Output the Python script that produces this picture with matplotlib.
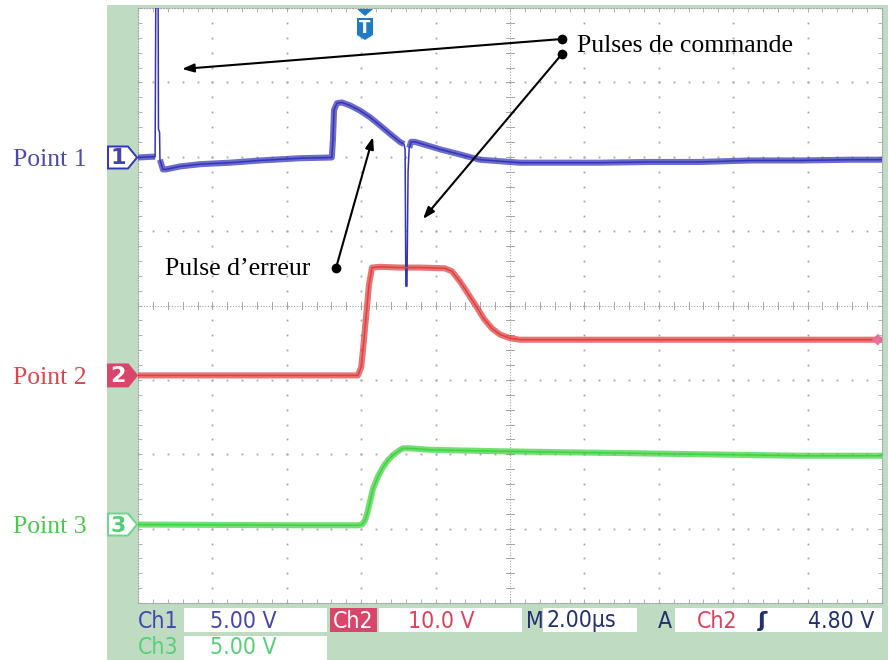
import numpy as np
import matplotlib
matplotlib.use("Agg")
import matplotlib.pyplot as plt
from matplotlib.patches import Polygon, Rectangle

# ---------------- data (time in µs, level in screen divisions) ----------------
ch1_t = [0.00, 0.38, 0.46, 0.48, 0.54, 0.55, 0.58, 0.59, 0.67, 0.75, 1.13, 1.67, 2.47,
         3.28, 4.35, 5.21, 5.24, 5.27, 5.35, 5.48, 5.70, 5.97, 6.24, 6.51, 6.77, 7.04,
         7.15, 7.18, 7.20, 7.23, 7.26, 7.29, 7.34, 7.45, 7.72, 8.12, 8.66, 9.19, 9.73,
         10.27, 11.34, 12.42, 13.76, 15.11, 16.45, 17.80, 19.14, 20.00]
ch1_v = [1.99, 2.00, 2.00, 4.30, 4.30, 2.37, 2.33, 1.96, 1.83, 1.83, 1.87, 1.90, 1.92,
         1.95, 1.98, 1.99, 2.23, 2.63, 2.72, 2.73, 2.69, 2.62, 2.53, 2.42, 2.31, 2.20,
         2.17, 2.10, 0.26, 0.26, 1.80, 2.12, 2.20, 2.20, 2.16, 2.10, 2.03, 1.96, 1.94,
         1.92, 1.92, 1.92, 1.93, 1.93, 1.95, 1.95, 1.96, 1.96]
ch1_spike_idx = [3, 4, 5, 6, 27, 28, 29, 30]

ch2_t = [0.00, 1.67, 4.35, 5.91, 6.00, 6.05, 6.10, 6.16, 6.21, 6.29, 6.51, 7.04, 7.58,
         8.25, 8.44, 8.66, 8.87, 9.09, 9.30, 9.52, 9.73, 10.00, 10.27, 13.76, 16.45, 20.00]
ch2_v = [-0.94, -0.94, -0.94, -0.94, -0.83, -0.59, -0.32, 0.01, 0.28, 0.51, 0.52, 0.51,
         0.51, 0.50, 0.46, 0.32, 0.16, -0.01, -0.18, -0.31, -0.39, -0.44, -0.46, -0.46,
         -0.46, -0.46]

ch3_t = [0.00, 4.35, 5.91, 6.02, 6.10, 6.16, 6.24, 6.32, 6.45, 6.59, 6.72, 6.86, 6.99,
         7.12, 7.31, 7.85, 9.73, 12.42, 15.11, 17.80, 20.00]
ch3_v = [-2.945, -2.955, -2.955, -2.945, -2.89, -2.80, -2.63, -2.46, -2.30, -2.17, -2.08,
         -2.01, -1.96, -1.92, -1.92, -1.94, -1.96, -1.98, -2.00, -2.02, -2.02]

ch_levels = [1.99, -0.94, -2.945]          # reference markers 1, 2, 3
point_labels = ["Point 1", "Point 2", "Point 3"]
status_row1 = ["Ch1", "5.00 V", "Ch2", "10.0 V", "M", "2.00µs", "A", "Ch2", "ʃ", "4.80 V"]
status_row2 = ["Ch3", "5.00 V"]

# ---------------- styling ----------------
W, H = 888, 660
BLUE, RED, GREEN = "#3434b8", "#e04040", "#3fd23f"
LBL_BLUE, LBL_RED, LBL_GREEN = "#4b4baa", "#d9484f", "#4cc94c"
PANEL = "#bfdcc3"
GRID = "#a2a6a6"
NAVY = "#23306e"

fig = plt.figure(figsize=(W / 100, H / 100), dpi=100)
fig.patch.set_facecolor("white")

# background scope panel (pixel coords)
bg = fig.add_axes([0, 0, 1, 1], zorder=0)
bg.set_xlim(0, W); bg.set_ylim(H, 0); bg.axis("off")
bg.add_patch(Rectangle((107, 5), W - 107, H - 5, facecolor=PANEL, edgecolor="none"))

# main scope screen
x0, x1, y0, y1 = 138, 882, 8, 603
ax = fig.add_axes([x0 / W, 1 - y1 / H, (x1 - x0) / W, (y1 - y0) / H], zorder=1)
ax.set_facecolor("white")
ax.set_xlim(0, 20)
ax.set_ylim(-4, 4)
for s in ax.spines.values():
    s.set_color(GRID); s.set_linestyle((0, (1, 1.5))); s.set_linewidth(0.8)
ax.set_xticks(np.arange(0, 20.01, 0.4))
ax.set_yticks(np.arange(-4, 4.01, 0.2))
ax.tick_params(direction="in", length=3, width=0.6, color=GRID,
               top=True, right=True, labelbottom=False, labelleft=False)

# dotted major grid
ydots = np.arange(-4, 4.001, 0.2)
xdots = np.arange(0, 20.001, 0.4)
for gx in range(2, 20, 2):
    if gx != 10:
        ax.plot(np.full_like(ydots, gx), ydots, ls="none", marker="s", ms=1.3,
                mec="none", color=GRID, zorder=1)
for gy in range(-3, 4):
    if gy != 0:
        ax.plot(xdots, np.full_like(xdots, gy), ls="none", marker="s", ms=1.3,
                mec="none", color=GRID, zorder=1)
# centre crosshair with ticks
ax.plot([10, 10], [-4, 4], color=GRID, lw=0.8, ls=(0, (1, 1.5)), zorder=1)
ax.plot([0, 20], [0, 0], color=GRID, lw=0.8, ls=(0, (1, 1.5)), zorder=1)
for yy in ydots:
    ax.plot([9.9, 10.1], [yy, yy], color=GRID, lw=0.7, zorder=1)
for xx in xdots:
    ax.plot([xx, xx], [-0.05, 0.05], color=GRID, lw=0.7, zorder=1)

# traces: thin core + thicker noise band
def draw_trace(t, v, color, spikes=()):
    t = np.asarray(t, float); v = np.asarray(v, float)
    band = v.copy()
    band[list(spikes)] = np.nan
    ax.plot(t, band, color=color, lw=4.4, alpha=0.72, solid_capstyle="butt", zorder=3)
    ax.plot(t, v, color=color, lw=1.1, zorder=4)

draw_trace(ch1_t, ch1_v, BLUE, ch1_spike_idx)
draw_trace(ch2_t, ch2_v, RED)
draw_trace(ch3_t, ch3_v, GREEN)

# ---------------- overlay (pixel coordinates) ----------------
ov = fig.add_axes([0, 0, 1, 1], zorder=3)
ov.set_xlim(0, W); ov.set_ylim(H, 0); ov.axis("off")
ov.patch.set_alpha(0)

def lvl_to_px(v):
    return y0 + (4 - v) / 8 * (y1 - y0)

# channel markers on the left
marker_styles = [("white", BLUE, "#4444b0"), ("#d9466c", "#d9466c", "white"),
                 ("white", "#6ad68a", "#55cc77")]
for i, lv in enumerate(ch_levels):
    c = lvl_to_px(lv)
    fc, ec, tc = marker_styles[i]
    ov.add_patch(Polygon([(108, c - 11), (128, c - 11), (137, c), (128, c + 11), (108, c + 11)],
                         closed=True, facecolor=fc, edgecolor=ec, lw=1.4, zorder=5))
    ov.text(118, c + 1, str(i + 1), color=tc, fontsize=16, fontweight="bold", ha="center",
            va="center", family="DejaVu Sans", zorder=6)

# small Ch2 marker at the right end
c2r = lvl_to_px(ch2_v[-1])
ov.add_patch(Polygon([(872, c2r), (878, c2r - 6), (882, c2r), (878, c2r + 6)],
                     closed=True, facecolor="#e7709a", edgecolor="none", zorder=5))

# left labels
lbl_colors = [LBL_BLUE, LBL_RED, LBL_GREEN]
for i, lv in enumerate(ch_levels):
    c = lvl_to_px(lv)
    ov.text(13, c + 8.5, point_labels[i], color=lbl_colors[i], fontsize=18.5,
            family="Liberation Serif", ha="left", va="baseline")

# trigger marker
TB = "#1f7cc0"
ov.add_patch(Polygon([(357, 9), (373, 9), (365, 16)], closed=True, facecolor=TB, edgecolor="none",
                     zorder=5))
ov.add_patch(Polygon([(357, 18), (373, 18), (373, 35), (365, 40), (357, 35)], closed=True,
                     facecolor=TB, edgecolor="none", zorder=5))
ov.text(365, 28, "T", color="white", fontsize=12, fontweight="bold", ha="center", va="center",
        family="DejaVu Sans", zorder=6)

# annotations
SERIF = "Liberation Serif"
ov.text(577, 52, "Pulses de commande", fontsize=18.5, family=SERIF, ha="left", va="baseline")
ov.text(165, 275, "Pulse d’erreur", fontsize=18.5, family=SERIF, ha="left", va="baseline")
arrows = [((562, 39), (182, 69)), ((562, 54), (423, 219)), ((336, 268), (373, 137))]
for (sx, sy), (ex, ey) in arrows:
    ov.annotate("", xy=(ex, ey), xytext=(sx, sy),
                arrowprops=dict(arrowstyle="-|>,head_length=0.7,head_width=0.25",
                                color="black", lw=1.5, shrinkA=0, shrinkB=0))
    ov.plot([sx], [sy], marker="o", ms=6, color="black")

# status bar
def box(xa, xb, ya, yb, fc="white"):
    ov.add_patch(Rectangle((xa, ya), xb - xa, yb - ya, facecolor=fc, edgecolor="none", zorder=2))

box(184, 327, 608, 632)
box(330, 377, 608, 632, fc="#d9466c")
box(379, 522, 608, 632)
box(543, 637, 608, 632)
box(675, 882, 608, 632)
box(184, 327, 636, 660)

SF = dict(fontsize=16.5, family="DejaVu Sans", fontstretch="condensed", va="center", zorder=4)
r1, r2 = 621, 648
ov.text(138, r1, status_row1[0], color="#4545ad", ha="left", **SF)
ov.text(210, r1, status_row1[1], color="#4545ad", ha="left", **SF)
ov.text(353, r1, status_row1[2], color="white", ha="center", **SF)
ov.text(408, r1, status_row1[3], color="#e0405c", ha="left", **SF)
ov.text(526, r1, status_row1[4], color=NAVY, ha="left", **SF)
ov.text(546, r1, status_row1[5], color=NAVY, ha="left", **SF)
ov.text(658, r1, status_row1[6], color=NAVY, ha="left", **SF)
ov.text(697, r1, status_row1[7], color="#e0405c", ha="left", **SF)
ov.text(762, r1, status_row1[8], color=NAVY, ha="center", fontsize=16, fontweight="bold",
        family="DejaVu Sans", va="center", zorder=4)
ov.text(808, r1, status_row1[9], color=NAVY, ha="left", **SF)
ov.text(138, r2, status_row2[0], color="#55d078", ha="left", **SF)
ov.text(210, r2, status_row2[1], color="#55d078", ha="left", **SF)

fig.savefig("out.png", dpi=100)
